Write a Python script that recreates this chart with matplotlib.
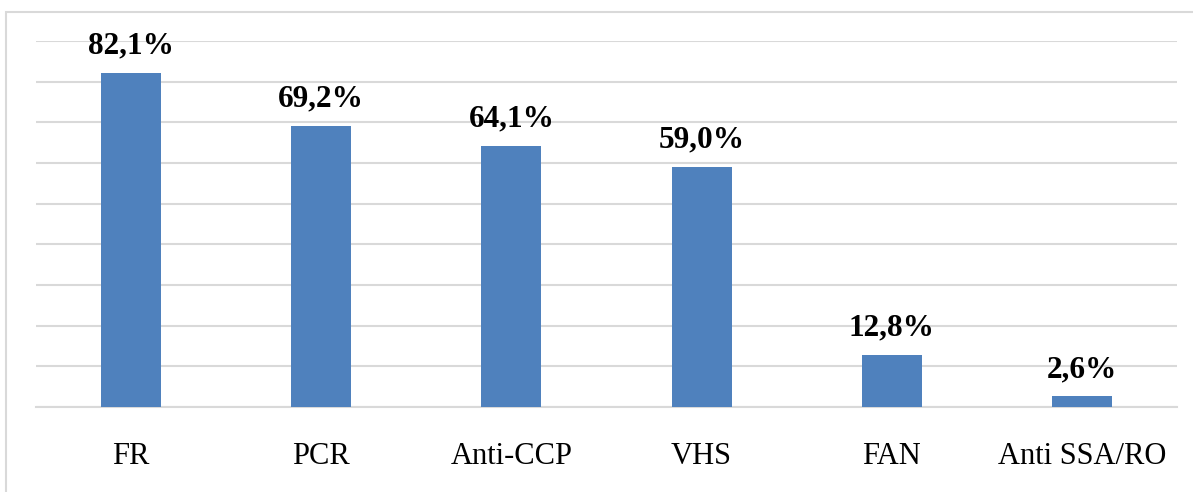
import matplotlib.pyplot as plt
from matplotlib.patches import Rectangle

# Percent of patients positive for each test
categories = ["FR", "PCR", "Anti-CCP", "VHS", "FAN", "Anti SSA/RO"]
values = [82.1, 69.2, 64.1, 59.0, 12.8, 2.6]

plt.rcParams['font.family'] = ['Liberation Serif', 'DejaVu Serif']

W, H = 1193, 492
fig = plt.figure(figsize=(W / 100, H / 100), dpi=100)
ax = fig.add_axes([36 / W, 1 - 407 / H, (1177 - 36) / W, (407 - 41) / H])

bar_color = '#4F81BD'
grid_color = '#D9D9D9'

x = range(len(categories))
bars = ax.bar(x, values, width=0.316, color=bar_color, zorder=3)

for rect, v in zip(bars, values):
    label = f"{v:.1f}%".replace('.', ',')
    ax.annotate(label, (rect.get_x() + rect.get_width() / 2, rect.get_height()),
                xytext=(0, 14), textcoords='offset points',
                ha='center', va='baseline', fontsize=22.5, fontweight='bold')

ax.set_xlim(-0.5, len(categories) - 0.5)
ax.set_ylim(0, 90)
ax.set_yticks(range(0, 91, 10))
ax.set_yticklabels([])
ax.yaxis.grid(True, color=grid_color, linewidth=1.5, zorder=0)
ax.set_xticks(list(x))
ax.set_xticklabels(categories, fontsize=22)
ax.tick_params(axis='both', length=0)
ax.tick_params(axis='x', pad=25)

for side in ['top', 'right', 'left']:
    ax.spines[side].set_visible(False)
ax.spines['bottom'].set_color(grid_color)
ax.spines['bottom'].set_linewidth(1.5)

# light frame around the chart area
fig.patches.append(Rectangle((6 / W, -0.1), 1.2, 1.1 - 12 / H, transform=fig.transFigure,
                             fill=False, edgecolor=grid_color, linewidth=1.5,
                             clip_on=False))

fig.savefig('out.png', dpi=100, facecolor='white')
